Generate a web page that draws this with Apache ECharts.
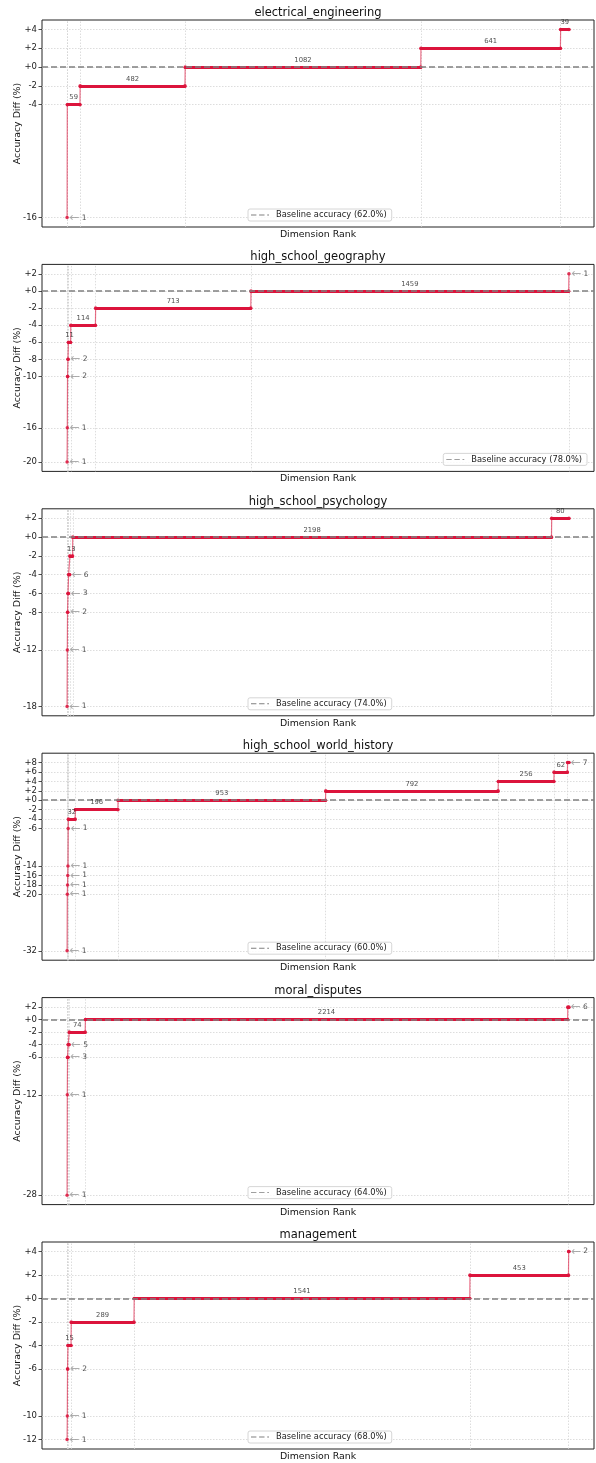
<!DOCTYPE html>
<html>
<head>
<meta charset="utf-8">
<script src="https://cdn.jsdelivr.net/npm/echarts@6/dist/echarts.min.js"></script>
<style>
html,body{margin:0;padding:0;background:#fff;}
#chart{width:596px;height:1463px;}
</style>
</head>
<body>
<div id="chart"></div>
<script>
// ---------------- DATA ----------------
const subjects = ['electrical_engineering', 'high_school_geography', 'high_school_psychology',
  'high_school_world_history', 'moral_disputes', 'management'];
const baselineAcc = [62.0, 78.0, 74.0, 60.0, 64.0, 68.0];
const totalDims = 2304;

// accuracy-diff levels (sorted) and number of dimensions at each level
const eeLevels  = [-16, -4, -2, 0, 2, 4];
const eeCounts  = [1, 59, 482, 1082, 641, 39];
const geoLevels = [-20, -16, -10, -8, -6, -4, -2, 0, 2];
const geoCounts = [1, 1, 2, 2, 11, 114, 713, 1459, 1];
const psyLevels = [-18, -12, -8, -6, -4, -2, 0, 2];
const psyCounts = [1, 1, 2, 3, 6, 13, 2198, 80];
const whLevels  = [-32, -20, -18, -16, -14, -6, -4, -2, 0, 2, 4, 6, 8];
const whCounts  = [1, 1, 1, 1, 1, 1, 32, 196, 953, 792, 256, 62, 7];
const mdLevels  = [-28, -12, -6, -4, -2, 0, 2];
const mdCounts  = [1, 1, 3, 5, 74, 2214, 6];
const mgLevels  = [-12, -10, -6, -4, -2, 0, 2, 4];
const mgCounts  = [1, 1, 2, 15, 289, 1541, 453, 2];

const allLevels = [eeLevels, geoLevels, psyLevels, whLevels, mdLevels, mgLevels];
const allCounts = [eeCounts, geoCounts, psyCounts, whCounts, mdCounts, mgCounts];
const legendSide = ['center', 'right', 'center', 'center', 'center', 'center'];

// ---------------- LAYOUT / STYLE ----------------
const FONT = 'DejaVu Sans';
const RED = '#dc143c';
const GL = 42, GW = 552, GH = 207, TOP0 = 20, STEP = 244.4;
const xPad = 0.05 * (totalDims - 1);
const DASH_ICON = 'path://M0,0H6V1H0Z M9,0H15V1H9Z M18,0H20V1H18Z';

const option = {
  animation: false,
  textStyle: { fontFamily: FONT },
  title: [], grid: [], xAxis: [], yAxis: [], legend: [], series: []
};

subjects.forEach((name, k) => {
  const levels = allLevels[k], counts = allCounts[k];
  const top = TOP0 + k * STEP;
  const bottom = top + GH;
  const lo = Math.min(...levels), hi = Math.max(...levels);
  const yPad = 0.05 * (hi - lo);

  // group start/end ranks
  const starts = [], ends = [];
  let r = 0;
  counts.forEach(c => { starts.push(r); ends.push(r + c - 1); r += c; });

  option.title.push({
    text: name, left: GL + GW / 2, top: top - 13, textAlign: 'center', padding: 0,
    textStyle: { fontSize: 11.5, fontWeight: 'normal', color: '#111', fontFamily: FONT }
  });
  option.grid.push({
    left: GL, top: top, width: GW, height: GH, show: true,
    borderColor: '#222', borderWidth: 1, backgroundColor: 'transparent',
    containLabel: false, outerBoundsMode: 'none'
  });
  option.xAxis.push({
    gridIndex: k, type: 'value', min: -xPad, max: totalDims - 1 + xPad,
    axisLine: { show: false, onZero: false }, axisTick: { show: false }, axisLabel: { show: false },
    splitLine: { show: false },
    name: 'Dimension Rank', nameLocation: 'middle', nameGap: 3, nameMoveOverlap: false,
    nameTextStyle: { fontSize: 9.4, color: '#111', fontFamily: FONT, verticalAlign: 'top' }
  });
  option.yAxis.push({
    gridIndex: k, type: 'value', min: lo - yPad, max: hi + yPad,
    axisLine: { show: false, onZero: false },
    axisTick: { show: true, customValues: levels, length: 3.5, lineStyle: { color: '#222', width: 0.8 } },
    axisLabel: {
      customValues: levels, fontSize: 8.5, color: '#222', margin: 5, fontFamily: FONT,
      formatter: v => (v >= 0 ? '+' : '') + v
    },
    splitLine: { show: false },
    name: 'Accuracy Diff (%)', nameLocation: 'middle', nameGap: 20, nameMoveOverlap: false,
    nameTextStyle: { fontSize: 9.4, color: '#111', fontFamily: FONT }
  });

  const legName = 'Baseline accuracy (' + baselineAcc[k].toFixed(1) + '%)';
  const leg = {
    data: [{ name: legName, icon: DASH_ICON }], top: bottom - 18, orient: 'horizontal',
    itemWidth: 18, itemHeight: 1.5, padding: [2, 5, 2, 3], itemGap: 5,
    itemStyle: { color: '#808080' },
    borderColor: '#ccc', borderWidth: 0.8, borderRadius: 2,
    backgroundColor: 'rgba(255,255,255,0.85)',
    textStyle: { fontSize: 8.3, color: '#222', fontFamily: FONT, padding: [0, 0, 0, 2] }
  };
  if (legendSide[k] === 'right') leg.right = 9; else leg.left = 248;
  option.legend.push(leg);

  // grid lines (horizontal at levels, vertical at group starts)
  option.series.push({
    type: 'line', xAxisIndex: k, yAxisIndex: k, data: [], silent: true, z: 1,
    markLine: {
      silent: true, symbol: ['none', 'none'], label: { show: false }, z: 1,
      lineStyle: { type: [1.5, 1.5], color: '#d4d4d4', width: 0.8 },
      emphasis: { disabled: true },
      data: levels.map(v => ({ yAxis: v })).concat(starts.map(s => ({ xAxis: s })))
    }
  });

  // thin connecting step line
  const conn = [];
  levels.forEach((v, i) => { conn.push([starts[i], v]); conn.push([ends[i], v]); });
  option.series.push({
    type: 'line', xAxisIndex: k, yAxisIndex: k, data: conn, symbol: 'none', silent: true, z: 2,
    lineStyle: { color: RED, width: 1.2, opacity: 0.6 }
  });

  // thick segments per level
  const segs = [];
  levels.forEach((v, i) => { if (counts[i] > 1) segs.push({ coords: [[starts[i], v], [ends[i], v]] }); });
  option.series.push({
    type: 'lines', coordinateSystem: 'cartesian2d', xAxisIndex: k, yAxisIndex: k,
    data: segs, silent: true, z: 3,
    lineStyle: { color: RED, width: 3.2, opacity: 1, cap: 'round' }
  });

  // end dots
  const dots = [];
  levels.forEach((v, i) => { dots.push([starts[i], v]); if (counts[i] > 1) dots.push([ends[i], v]); });
  option.series.push({
    type: 'scatter', xAxisIndex: k, yAxisIndex: k, data: dots, symbolSize: 3.5, silent: true, z: 4,
    itemStyle: { color: RED, opacity: 0.85 }
  });

  // baseline
  option.series.push({
    name: legName, type: 'line', xAxisIndex: k, yAxisIndex: k, data: [], symbol: 'none', z: 5,
    lineStyle: { color: '#808080', width: 1.5, type: [6, 3] },
    itemStyle: { color: '#808080' },
    markLine: {
      silent: true, symbol: ['none', 'none'], label: { show: false }, z: 5,
      lineStyle: { color: '#808080', width: 1.5, type: [6, 3] },
      emphasis: { disabled: true },
      data: [{ yAxis: 0 }]
    }
  });

  // count labels
  const labs = levels.map((v, i) => {
    const c = counts[i];
    const mid = (starts[i] + ends[i]) / 2;
    if (c >= 10) {
      return { value: [mid, v], label: { show: true, position: 'top', distance: 3,
        formatter: String(c), fontSize: 6.8, color: '#222', fontFamily: FONT } };
    }
    return { value: [mid, v], label: { show: true, position: 'right', distance: 2,
      formatter: '{a|←}{b|' + c + '}',
      rich: {
        a: { fontSize: 12, color: '#999', fontFamily: FONT },
        b: { fontSize: 7.5, color: '#222', fontFamily: FONT, padding: [0, 0, 0, 2] }
      } } };
  });
  option.series.push({
    type: 'scatter', xAxisIndex: k, yAxisIndex: k, data: labs, symbolSize: 1, silent: true, z: 6,
    itemStyle: { color: 'rgba(0,0,0,0)' }
  });
});

const chart = echarts.init(document.getElementById('chart'), null, { renderer: 'canvas' });
chart.setOption(option);
</script>
</body>
</html>
